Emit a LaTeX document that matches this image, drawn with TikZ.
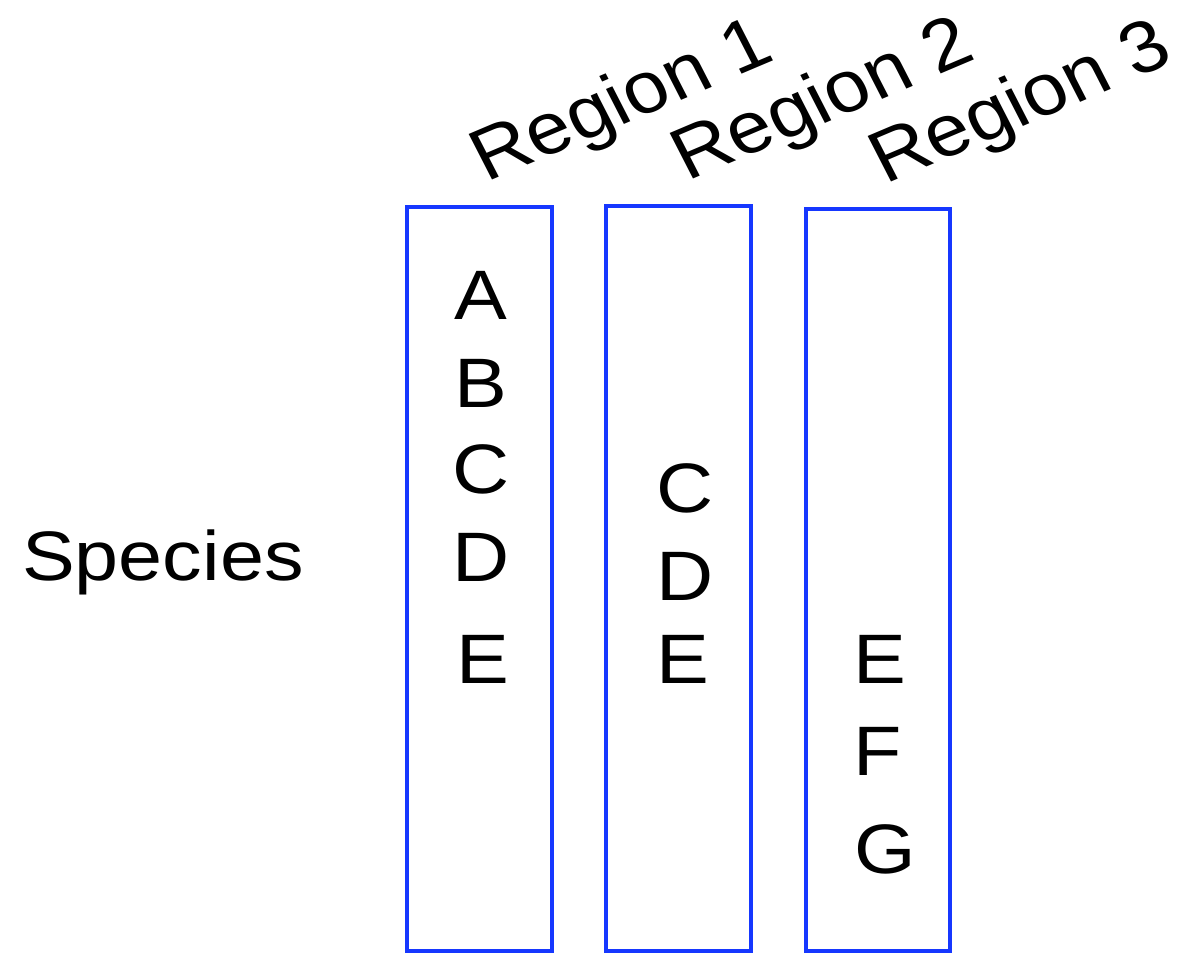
\documentclass[tikz,border=0pt]{standalone}
\usepackage{fontspec}
\setmainfont{Liberation Sans}[FakeStretch=1.13]
\newfontfamily\headingfont{Liberation Sans}
\definecolor{regionblue}{RGB}{22,55,255}
\begin{document}
\begin{tikzpicture}[x=1pt,y=-1pt,
  regionbox/.style={draw=regionblue,line width=4pt},
  lbl/.style={font=\fontsize{70}{84}\selectfont,inner sep=0pt,anchor=base},
  rlabel/.style={font=\headingfont\fontsize{73}{87}\selectfont,inner sep=0pt,
    anchor=base west,xscale=1.1,rotate=25}]
\useasboundingbox (0,0) rectangle (1187,954);
% region columns
\draw[regionbox] (407,207) rectangle (552,951) coordinate (b1);
\draw[regionbox] (606,206) rectangle (751,951) coordinate (b2);
\draw[regionbox] (806,209) rectangle (950,951) coordinate (b3);
% region headings, slanted
\node[rlabel] (r1) at (486,183) {Region 1};
\node[rlabel] (r2) at (687,182) {Region 2};
\node[rlabel] (r3) at (885,185) {Region 3};
% row label
\node[lbl,anchor=base west] (sp) at (22,580) {Species};
% species in region 1
\node[lbl] (a1) at (481,319) {A};
\node[lbl] (b1l) at (481,407) {B};
\node[lbl] (c1) at (481,493) {C};
\node[lbl] (d1) at (481,581) {D};
\node[lbl] (e1) at (483,683) {E};
% species in region 2
\node[lbl] (c2) at (685,512) {C};
\node[lbl] (d2) at (685,600) {D};
\node[lbl] (e2) at (683,683) {E};
% species in region 3
\node[lbl] (e3) at (880,683) {E};
\node[lbl] (f3) at (878,775) {F};
\node[lbl] (g3) at (885,873) {G};
\end{tikzpicture}
\end{document}
